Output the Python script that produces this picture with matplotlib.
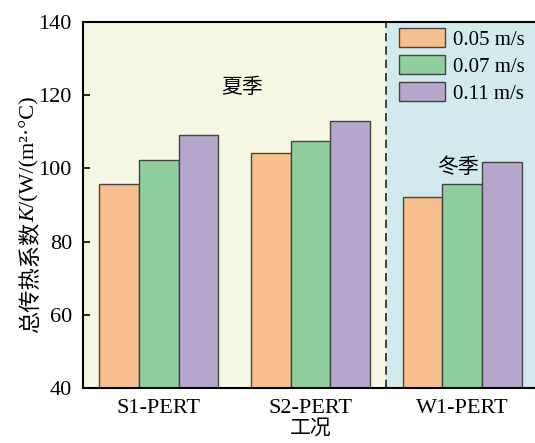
import numpy as np
import matplotlib.pyplot as plt

plt.rcParams['font.family'] = ['Liberation Serif', 'Noto Sans CJK SC']

# data
cases = ['S1-PERT', 'S2-PERT', 'W1-PERT']
speeds = ['0.05 m/s', '0.07 m/s', '0.11 m/s']
k_005 = [95.7, 104.1, 92.3]
k_007 = [102.3, 107.5, 95.7]
k_011 = [109.1, 113.0, 101.8]
colors = ['#F9C08F', '#8FCF9E', '#B6A6CB']

fig = plt.figure(figsize=(5.35, 4.43), dpi=100)
ax = fig.add_axes([83 / 535, 55 / 443, 455 / 535, 366 / 443])

x = np.arange(len(cases))
w = 0.262

# season backgrounds
ax.axvspan(-0.5, 1.5, color='#F7F8E3', zorder=0, lw=0)
ax.axvspan(1.5, 2.5, color='#D2EAEE', zorder=0, lw=0)
ax.axvline(1.5, color='#222222', ls=(0, (5, 3)), lw=1.2, zorder=1)

for i, vals in enumerate([k_005, k_007, k_011]):
    ax.bar(x + (i - 1) * w, np.array(vals) - 40, w, bottom=40, color=colors[i],
           edgecolor='#444444', linewidth=1.0, label=speeds[i], zorder=2)

ax.set_xlim(-0.5, 2.5)
ax.set_ylim(40, 140)
ax.set_yticks([40, 60, 80, 100, 120, 140])
ax.set_xticks(x)
ax.set_xticklabels(cases)
ax.tick_params(direction='in', labelsize=16, length=5, width=1.2, pad=8)
for s in ax.spines.values():
    s.set_linewidth(1.5)

ax.set_xlabel('工况', fontsize=15, labelpad=1)

# y label built from pieces so Chinese, italic K and Latin text all render
renderer = fig.canvas.get_renderer()
pieces = [('总传热系数', 'normal', ['Noto Sans CJK SC']),
          ('K', 'italic', ['Liberation Serif']),
          ('/(W/(m²·°C)', 'normal', ['Liberation Serif'])]
items = []
total = 0
for txt, style, fam in pieces:
    t = fig.text(0, 0, txt, rotation=90, fontsize=16, family=fam, style=style,
                 ha='center', va='bottom')
    h = t.get_window_extent(renderer).height
    items.append((t, h))
    total += h
y0 = (443 - 215) - total / 2
for t, h in items:
    t.set_position((30 / 535, y0 / 443))
    y0 += h

ax.text(0.55, 122, '夏季', fontsize=15, ha='center', va='center')
ax.text(1.97, 100, '冬季', fontsize=15, ha='center', va='center')

ax.legend(loc='upper left', bbox_to_anchor=(0.667, 1.018), frameon=False,
          fontsize=15, handlelength=2.2, handleheight=1.06,
          labelspacing=0.25, handletextpad=0.4, borderaxespad=0.2)

fig.savefig('out.png', dpi=100)
